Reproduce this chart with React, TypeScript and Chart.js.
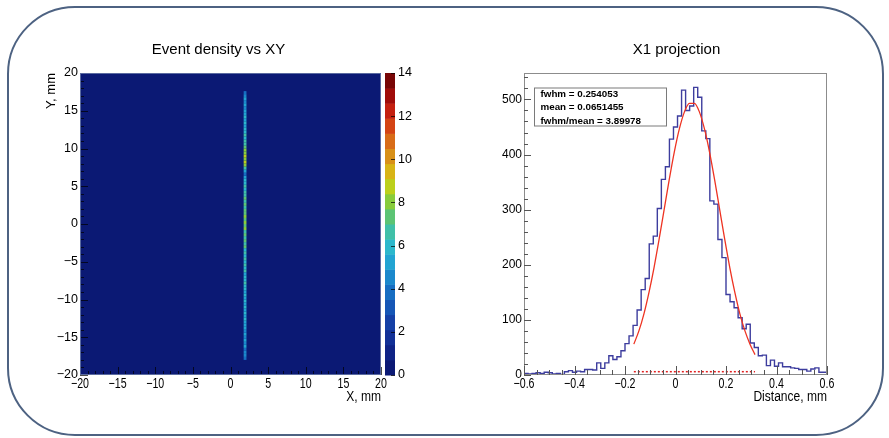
import React, { useEffect, useRef } from "react";
import { Chart, registerables } from "chart.js";

Chart.register(...registerables);

const SANS = "'Liberation Sans', Arial, Helvetica, sans-serif";

// ---------------- Left panel: event density vs XY ----------------
const mapTitle = "Event density vs XY";
const mapXLabel = "X, mm";
const mapYLabel = "Y, mm";
const mapXMin = -20;
const mapXMax = 20;
const mapYMin = -20;
const mapYMax = 20;
const mapTickStep = 5;
const mapMinorStep = 1;
// the single populated column of cells (X bin edges) and its Y binning
const stripeXEdges = [1.75, 2.12];
const stripeYStart = -18;
const stripeBin = 0.4;
const stripeValues = [
  3.7, 4.3, 4.6, 4.1, 4.9, 4.5, 5.1, 4.7, 5.3, 4.8,
  5.5, 5.0, 5.4, 5.7, 5.1, 5.6, 5.2, 5.9, 5.4, 5.8,
  5.5, 6.1, 5.3, 6.0, 5.6, 6.3, 5.7, 6.2, 5.5, 6.4,
  5.8, 6.6, 6.0, 6.5, 5.9, 6.8, 6.2, 7.0, 6.4, 7.3,
  6.7, 7.6, 6.9, 7.8, 7.1, 8.0, 7.3, 7.7, 7.0, 7.5,
  6.8, 7.4, 6.6, 7.1, 6.3, 6.9, 6.1, 6.5, 5.7, 6.2,
  4.9, 3.5, 5.1, 6.7, 7.9, 8.4, 8.1, 8.6, 7.8, 8.3,
  7.4, 6.9, 6.3, 5.9, 6.4, 5.6, 6.1, 5.4, 5.8, 5.2,
  5.6, 5.0, 5.4, 4.8, 5.2, 4.6, 5.0, 4.4, 4.0,
];
const zMin = 0;
const zMax = 14;
const zTickStep = 2;
const paletteColors = [
  "#0b1974", "#0f2386", "#123096", "#1540a6", "#1656b6", "#176ec2",
  "#1b88cc", "#22a4d2", "#2cb8cc", "#40c0a8", "#5cc474", "#88cc3c",
  "#bcd01c", "#d8b416", "#d89018", "#d86c18", "#d44414", "#c42010",
  "#a00c0a", "#780606",
];

// ---------------- Right panel: X1 projection ----------------
const histTitle = "X1 projection";
const histXLabel = "Distance, mm";
const histXMin = -0.6;
const histXMax = 0.6;
const histYMax = 548;
const histXStep = 0.2;
const histXMinor = 0.05;
const histYStep = 100;
const histYMinor = 20;
const histBinStart = -0.6;
const histBinWidth = 0.016;
const histCounts = [
  2, 3, 2, 3, 4, 3, 5, 4, 2, 3,
  1, 6, 8, 5, 7, 6, 10, 10, 9, 22,
  12, 22, 35, 28, 33, 44, 57, 71, 90, 118,
  155, 175, 238, 252, 302, 355, 378, 428, 450, 470,
  517, 480, 488, 522, 504, 443, 429, 316, 310, 246,
  213, 146, 133, 122, 104, 84, 92, 58, 50, 35,
  36, 17, 27, 16, 22, 15, 15, 13, 12, 10,
  10, 7, 11, 13, 5,
];
const fitX = [
  -0.165, -0.145, -0.125, -0.105, -0.085, -0.065, -0.045, -0.025, -0.005,
  0.015, 0.035, 0.055, 0.075, 0.095, 0.115, 0.135, 0.155, 0.175, 0.195,
  0.215, 0.235, 0.255, 0.275, 0.295, 0.315,
];
const fitY = [
  56, 80, 111, 150, 195, 246, 300, 354, 404,
  446, 477, 493, 493, 477, 446, 404, 354, 300, 246,
  195, 150, 111, 80, 56, 37,
];
const baseLineX = [-0.165, 0.315];
const baseLineY = [6, 6];
const statsLines = ["fwhm = 0.254053", "mean = 0.0651455", "fwhm/mean = 3.89978"];

// ---------------- helpers ----------------
function fmt(v: number, digits: number): string {
  const n = Number(Number(v).toFixed(digits));
  if (Math.abs(n) < 1e-12) return "0";
  return String(n).replace("-", "\u2212");
}

function tickValues(min: number, max: number, step: number): number[] {
  const out: number[] = [];
  const start = Math.ceil(min / step - 1e-9);
  const end = Math.floor(max / step + 1e-9);
  for (let k = start; k <= end; k++) out.push(k * step);
  return out;
}

function isMultiple(v: number, step: number) {
  return Math.abs(v / step - Math.round(v / step)) < 1e-6;
}

function drawAxisTicks(
  ctx: CanvasRenderingContext2D,
  scale: any,
  horizontal: boolean,
  edge: number,
  dir: number,
  min: number,
  max: number,
  major: number,
  minor: number,
  lenMajor: number,
  lenMinor: number
) {
  ctx.beginPath();
  for (const v of tickValues(min, max, minor)) {
    const p = Math.round(scale.getPixelForValue(v)) + 0.5;
    const len = isMultiple(v, major) ? lenMajor : lenMinor;
    if (horizontal) {
      ctx.moveTo(p, edge);
      ctx.lineTo(p, edge + dir * len);
    } else {
      ctx.moveTo(edge, p);
      ctx.lineTo(edge + dir * len, p);
    }
  }
  ctx.stroke();
}

// narrow (horizontally compressed) text, like the ROOT axis labels
function narrowText(ctx: CanvasRenderingContext2D, text: string, x: number, y: number, align: CanvasTextAlign, size: number, squeeze: number) {
  ctx.save();
  ctx.translate(x, y);
  ctx.scale(squeeze, 1);
  ctx.font = `${size}px ${SANS}`;
  ctx.textAlign = align;
  ctx.textBaseline = "middle";
  ctx.fillStyle = "#000";
  ctx.fillText(text, 0, 0);
  ctx.restore();
}

function drawXAxisText(ctx: CanvasRenderingContext2D, scale: any, a: any, title: string) {
  for (const t of scale.ticks) {
    narrowText(ctx, String(t.label), scale.getPixelForValue(t.value), a.bottom + 9.5, "center", 14, 0.76);
  }
  narrowText(ctx, title, a.right, a.bottom + 22, "right", 14, 0.86);
}

function colorFor(v: number) {
  const step = (zMax - zMin) / paletteColors.length;
  const idx = Math.max(0, Math.min(paletteColors.length - 1, Math.floor((v - zMin) / step)));
  return paletteColors[idx];
}

// ---------------- plugins ----------------
const mapPlugin = {
  id: "mapDeco",
  beforeDatasetsDraw(chart: any) {
    const { ctx, chartArea: a, scales } = chart;
    const xs = scales.x;
    const ys = scales.y;
    const zs = scales.z;
    ctx.save();
    ctx.fillStyle = paletteColors[0];
    ctx.fillRect(a.left, a.top, a.right - a.left, a.bottom - a.top);
    const cells = chart.data.datasets[0].data as any[];
    for (const c of cells) {
      const x0 = xs.getPixelForValue(c.x0);
      const x1 = xs.getPixelForValue(c.x1);
      const y0 = ys.getPixelForValue(c.y0);
      const y1 = ys.getPixelForValue(c.y1);
      ctx.fillStyle = colorFor(c.v);
      ctx.fillRect(x0, y1, x1 - x0, y0 - y1);
    }
    // colour bar
    const bx = a.right + 4;
    const bw = 10;
    const n = paletteColors.length;
    const step = (zMax - zMin) / n;
    for (let k = 0; k < n; k++) {
      const yA = zs.getPixelForValue(zMin + k * step);
      const yB = zs.getPixelForValue(zMin + (k + 1) * step);
      ctx.fillStyle = paletteColors[k];
      ctx.fillRect(bx, yB, bw, yA - yB + 0.5);
    }
    ctx.restore();
  },
  afterDraw(chart: any) {
    const { ctx, chartArea: a, scales } = chart;
    ctx.save();
    ctx.strokeStyle = "rgba(0,0,0,0.7)";
    ctx.lineWidth = 1;
    drawAxisTicks(ctx, scales.x, true, a.bottom, -1, mapXMin, mapXMax, mapTickStep, mapMinorStep, 8, 4);
    drawAxisTicks(ctx, scales.y, false, a.left, 1, mapYMin, mapYMax, mapTickStep, mapMinorStep, 8, 4);
    const bxr = a.right + 14;
    drawAxisTicks(ctx, scales.z, false, bxr, -1, zMin, zMax, zTickStep, zTickStep, 4, 4);
    ctx.strokeStyle = "#5a6aa0";
    ctx.strokeRect(a.left + 0.5, a.top + 0.5, a.right - a.left - 1, a.bottom - a.top - 1);
    drawXAxisText(ctx, scales.x, a, mapXLabel);
    // title
    ctx.fillStyle = "#000";
    ctx.font = `15px ${SANS}`;
    ctx.textAlign = "center";
    ctx.textBaseline = "middle";
    ctx.fillText(mapTitle, (a.left + a.right) / 2 -12, 50);
    ctx.restore();
  },
};

const histPlugin = {
  id: "histDeco",
  afterDraw(chart: any) {
    const { ctx, chartArea: a, scales } = chart;
    ctx.save();
    ctx.strokeStyle = "#8c8c8c";
    ctx.lineWidth = 1;
    ctx.strokeRect(a.left + 0.5, a.top + 0.5, a.right - a.left - 1, a.bottom - a.top - 1);
    ctx.strokeStyle = "#555";
    drawAxisTicks(ctx, scales.x, true, a.bottom, -1, histXMin, histXMax, histXStep, histXMinor, 9, 5);
    drawAxisTicks(ctx, scales.y, false, a.left, 1, 0, histYMax, histYStep, histYMinor, 7, 4);
    drawXAxisText(ctx, scales.x, a, histXLabel);
    // stats box
    const bx = a.left + 10;
    const by = a.top + 14.5;
    const bw = 132;
    const bh = 38;
    ctx.fillStyle = "#fff";
    ctx.fillRect(bx, by, bw, bh);
    ctx.strokeStyle = "#7a7a7a";
    ctx.strokeRect(bx + 0.5, by + 0.5, bw, bh);
    ctx.fillStyle = "#000";
    ctx.font = `bold 9.8px ${SANS}`;
    ctx.textAlign = "left";
    ctx.textBaseline = "middle";
    statsLines.forEach((t, i) => ctx.fillText(t, bx + 6.5, by + 6.8 + i * 13.3));
    // title
    ctx.font = `15px ${SANS}`;
    ctx.textAlign = "center";
    ctx.fillText(histTitle, (a.left + a.right) / 2 + 1, 50);
    ctx.restore();
  },
};

// ---------------- configs ----------------
function mapConfig(): any {
  const cells = stripeValues.map((v, i) => ({
    x: (stripeXEdges[0] + stripeXEdges[1]) / 2,
    y: stripeYStart + (i + 0.5) * stripeBin,
    x0: stripeXEdges[0],
    x1: stripeXEdges[1],
    y0: stripeYStart + i * stripeBin,
    y1: stripeYStart + (i + 1) * stripeBin,
    v,
  }));
  return {
    type: "scatter",
    data: { datasets: [{ data: cells, pointRadius: 0, showLine: false }] },
    options: {
      animation: false,
      responsive: false,
      devicePixelRatio: 1,
      layout: { padding: { left: 40, top: 73, right: 468, bottom: 33 } },
      plugins: { legend: { display: false }, tooltip: { enabled: false }, title: { display: false } },
      scales: {
        x: {
          type: "linear",
          min: mapXMin,
          max: mapXMax,
          grid: { display: false, drawTicks: false },
          border: { display: false },
          ticks: {
            display: false,
            stepSize: mapTickStep,
            autoSkip: false,
            maxRotation: 0,
            includeBounds: false,
            callback: (v: number) => fmt(v, 0),
          },
          afterFit: (s: any) => {
            s.height = 30;
          },
        },
        y: {
          type: "linear",
          min: mapYMin,
          max: mapYMax,
          grid: { display: false, drawTicks: false },
          border: { display: false },
          ticks: {
            stepSize: mapTickStep,
            autoSkip: false,
            includeBounds: false,
            padding: 2,
            color: "#000",
            font: { family: SANS, size: 12.5 },
            callback: (v: number) => fmt(v, 0),
          },
          title: { display: true, text: mapYLabel, align: "end", color: "#000", font: { family: SANS, size: 13 }, padding: { top: 4, bottom: 0 } },
          afterFit: (s: any) => {
            s.width = 40;
          },
        },
        z: {
          type: "linear",
          position: "right",
          min: zMin,
          max: zMax,
          grid: { display: false, drawTicks: false },
          border: { display: false },
          ticks: {
            stepSize: zTickStep,
            autoSkip: false,
            includeBounds: false,
            padding: 17,
            color: "#000",
            font: { family: SANS, size: 12.5 },
            callback: (v: number) => fmt(v, 0),
          },
          afterFit: (s: any) => {
            s.width = 40;
          },
        },
      },
    },
    plugins: [mapPlugin],
  };
}

function histConfig(): any {
  const histPoints = histCounts.map((c, i) => ({ x: histBinStart + i * histBinWidth, y: c }));
  histPoints.push({ x: histBinStart + histCounts.length * histBinWidth, y: histCounts[histCounts.length - 1] });
  const fitPoints = fitX.map((x, i) => ({ x, y: fitY[i] }));
  const basePoints = baseLineX.map((x, i) => ({ x, y: baseLineY[i] }));
  return {
    type: "scatter",
    data: {
      datasets: [
        {
          data: fitPoints,
          showLine: true,
          pointRadius: 0,
          borderColor: "#ee3322",
          borderWidth: 1.3,
          cubicInterpolationMode: "monotone",
        },
        {
          data: basePoints,
          showLine: true,
          pointRadius: 0,
          borderColor: "#e02020",
          borderWidth: 1.5,
          borderDash: [2, 2],
        },
        {
          data: histPoints,
          showLine: true,
          pointRadius: 0,
          borderColor: "#3d3d9e",
          borderWidth: 1.4,
          stepped: "after",
        },
      ],
    },
    options: {
      animation: false,
      responsive: false,
      devicePixelRatio: 1,
      layout: { padding: { left: 484, top: 73, right: 62, bottom: 33 } },
      plugins: { legend: { display: false }, tooltip: { enabled: false }, title: { display: false } },
      scales: {
        x: {
          type: "linear",
          min: histXMin,
          max: histXMax,
          grid: { display: false, drawTicks: false },
          border: { display: false },
          ticks: {
            display: false,
            stepSize: histXStep,
            autoSkip: false,
            maxRotation: 0,
            includeBounds: false,
            callback: (v: number) => fmt(v, 1),
          },
          afterFit: (s: any) => {
            s.height = 30;
          },
        },
        y: {
          type: "linear",
          min: 0,
          max: histYMax,
          grid: { display: false, drawTicks: false },
          border: { display: false },
          ticks: {
            stepSize: histYStep,
            autoSkip: false,
            includeBounds: false,
            padding: 2,
            color: "#000",
            font: { family: SANS, size: 12 },
            callback: (v: number) => fmt(v, 0),
          },
          afterFit: (s: any) => {
            s.width = 40;
          },
        },
      },
    },
    plugins: [histPlugin],
  };
}

export default function App() {
  const leftRef = useRef<HTMLCanvasElement>(null);
  const rightRef = useRef<HTMLCanvasElement>(null);
  useEffect(() => {
    const c1 = new Chart(leftRef.current as HTMLCanvasElement, mapConfig());
    const c2 = new Chart(rightRef.current as HTMLCanvasElement, histConfig());
    return () => {
      c1.destroy();
      c2.destroy();
    };
  }, []);
  const canvasStyle: React.CSSProperties = { position: "absolute", left: 0, top: 0, width: 889, height: 438 };
  return (
    <div style={{ position: "fixed", left: 0, top: 0, width: 889, height: 438, background: "#fff", overflow: "hidden" }}>
      <div
        style={{
          position: "absolute",
          left: 7,
          top: 6,
          width: 873,
          height: 426,
          border: "2px solid #4d6282",
          borderRadius: 68,
        }}
      />
      <canvas ref={leftRef} width={889} height={438} style={canvasStyle} />
      <canvas ref={rightRef} width={889} height={438} style={canvasStyle} />
    </div>
  );
}
